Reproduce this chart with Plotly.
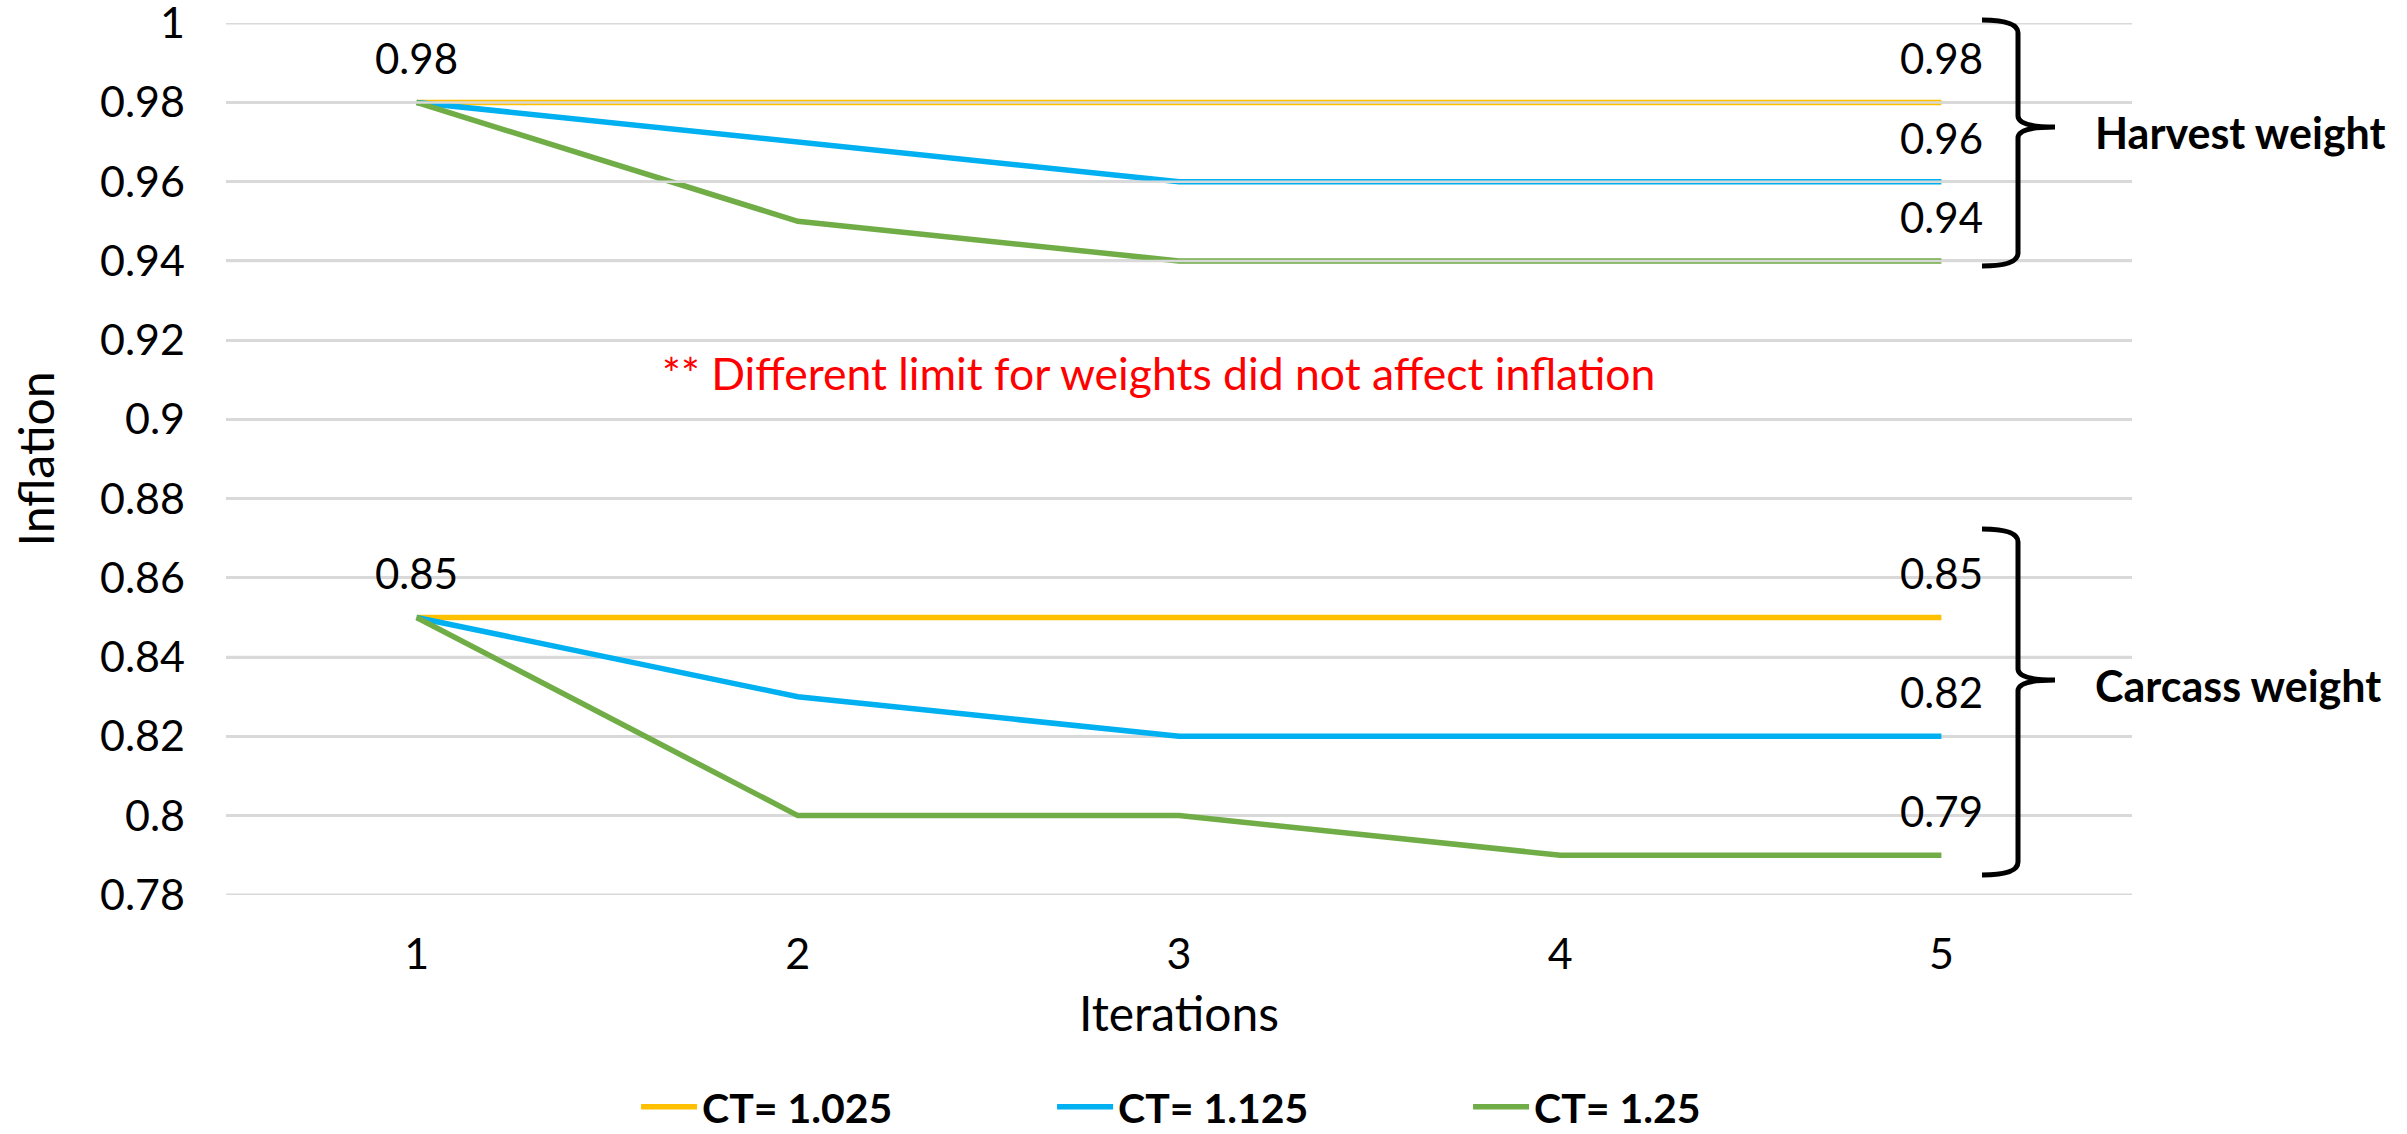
import plotly.graph_objects as go

# ---- data ----
iterations = [1, 2, 3, 4, 5]
ct_labels = ["CT= 1.025", "CT= 1.125", "CT= 1.25"]
ct_colors = ["#FFC000", "#00B0F0", "#70AD47"]

harvest_ct1025 = [0.98, 0.98, 0.98, 0.98, 0.98]
harvest_ct1125 = [0.98, 0.97, 0.96, 0.96, 0.96]
harvest_ct125 = [0.98, 0.95, 0.94, 0.94, 0.94]

carcass_ct1025 = [0.85, 0.85, 0.85, 0.85, 0.85]
carcass_ct1125 = [0.85, 0.83, 0.82, 0.82, 0.82]
carcass_ct125 = [0.85, 0.80, 0.80, 0.79, 0.79]

y_tick_vals = [0.78, 0.80, 0.82, 0.84, 0.86, 0.88, 0.90, 0.92, 0.94, 0.96, 0.98, 1.00]
y_tick_text = ["0.78", "0.8", "0.82", "0.84", "0.86", "0.88", "0.9", "0.92", "0.94", "0.96", "0.98", "1"]
x_tick_text = ["1", "2", "3", "4", "5"]

group_names = ["Harvest weight", "Carcass weight"]
note_text = "** Different limit for weights did not affect inflation"

harvest = [harvest_ct1025, harvest_ct1125, harvest_ct125]
carcass = [carcass_ct1025, carcass_ct1125, carcass_ct125]

# ---- layout geometry (pixels) ----
W, H = 2407, 1134
PL, PR, PT, PB = 226, 2132, 23, 895
x_range = [0.5, 5.5]
y_range = [0.78, 1.0]
y_axis_range = [y_range[0] - 0.00005, y_range[1] + 0.00005]

FONT = "Lato"
LINE_W = 5.5
GRID_COLOR = "#D9D9D9"
GRID_W = 2.5


def paper_x(px):
    return (px - PL) / (PR - PL)


def paper_y(py):
    return (PB - py) / (PB - PT)


fig = go.Figure()

# harvest-weight series
for name, color, ys in zip(ct_labels, ct_colors, harvest):
    fig.add_trace(go.Scatter(
        x=iterations, y=ys, mode="lines", name=name,
        line=dict(color=color, width=LINE_W),
        legendgroup=name, showlegend=True, hoverinfo="skip",
    ))

# gridlines repeated over the harvest series (they sit on top of them)
gx, gy = [], []
for v in y_tick_vals:
    gx += [x_range[0], x_range[1], None]
    gy += [v, v, None]
fig.add_trace(go.Scatter(
    x=gx, y=gy, mode="lines", line=dict(color=GRID_COLOR, width=GRID_W),
    showlegend=False, hoverinfo="skip",
))

# carcass-weight series
for name, color, ys in zip(ct_labels, ct_colors, carcass):
    fig.add_trace(go.Scatter(
        x=iterations, y=ys, mode="lines", name=name,
        line=dict(color=color, width=LINE_W),
        legendgroup=name, showlegend=False, hoverinfo="skip",
    ))

annotations = []


def value_label(x, y):
    annotations.append(dict(
        x=x, y=y, xref="x", yref="y", text=f"{y:g}", showarrow=False,
        yshift=44, font=dict(family=FONT, size=42, color="black"),
    ))


for group in (harvest, carcass):
    value_label(iterations[0], group[0][0])
    for ys in group:
        value_label(iterations[-1], ys[-1])

# braces and group names
shapes = []


def brace(top, mid, bot, hx=1982, bx=2018, tx=2055):
    pts = [
        ("M", [(hx, top)]),
        ("Q", [(bx, top), (bx, top + 13)]),
        ("L", [(bx, mid - 11)]),
        ("Q", [(bx, mid), (tx, mid)]),
        ("Q", [(bx, mid), (bx, mid + 11)]),
        ("L", [(bx, bot - 13)]),
        ("Q", [(bx, bot), (hx, bot)]),
    ]
    path = " ".join(
        cmd + " " + " ".join(f"{paper_x(px):.5f},{paper_y(py):.5f}" for px, py in p)
        for cmd, p in pts
    )
    shapes.append(dict(type="path", path=path, xref="paper", yref="paper",
                       line=dict(color="black", width=5)))


brace(20, 127, 266)
brace(529, 680, 875)

for name, cy in zip(group_names, [133, 685]):
    annotations.append(dict(
        x=paper_x(2093), y=paper_y(cy), xref="paper", yref="paper",
        xanchor="left", yanchor="middle", text=f"<b>{name}</b>", showarrow=False,
        font=dict(family=FONT, size=43, color="black"),
    ))

annotations.append(dict(
    x=paper_x(1158), y=paper_y(372), xref="paper", yref="paper",
    xanchor="center", yanchor="middle", text=note_text, showarrow=False,
    font=dict(family=FONT, size=44.5, color="#FF0000"),
))

fig.update_layout(
    width=W, height=H,
    margin=dict(l=PL, r=W - PR, t=PT, b=H - PB, autoexpand=False),
    paper_bgcolor="white", plot_bgcolor="white",
    font=dict(family=FONT, color="black"),
    showlegend=True,
    legend=dict(
        orientation="h",
        xref="container", x=0.5235, xanchor="center",
        yref="container", y=(H - 1107) / H, yanchor="middle",
        font=dict(family=FONT, size=41, color="black", weight="bold"),
        itemwidth=56, entrywidth=345, entrywidthmode="pixels",
        bgcolor="rgba(0,0,0,0)",
    ),
    xaxis=dict(
        range=x_range, tickvals=iterations, ticktext=x_tick_text,
        showgrid=False, zeroline=False, showline=False, ticks="",
        automargin=False,
        tickfont=dict(family=FONT, size=43, color="black"),
        ticklabelstandoff=30,
        title=dict(text="Iterations", font=dict(family=FONT, size=48, color="black"), standoff=20),
    ),
    yaxis=dict(
        range=y_axis_range, tickvals=y_tick_vals, ticktext=y_tick_text,
        showgrid=True, gridcolor=GRID_COLOR, gridwidth=GRID_W,
        zeroline=False, showline=False, ticks="",
        automargin=False, ticklabeloverflow="allow",
        tickfont=dict(family=FONT, size=43, color="black"),
        ticklabelstandoff=40,
        title=dict(text="Inflation", font=dict(family=FONT, size=48, color="black"), standoff=30),
    ),
    annotations=annotations,
    shapes=shapes,
)

fig.write_html("out.html")
